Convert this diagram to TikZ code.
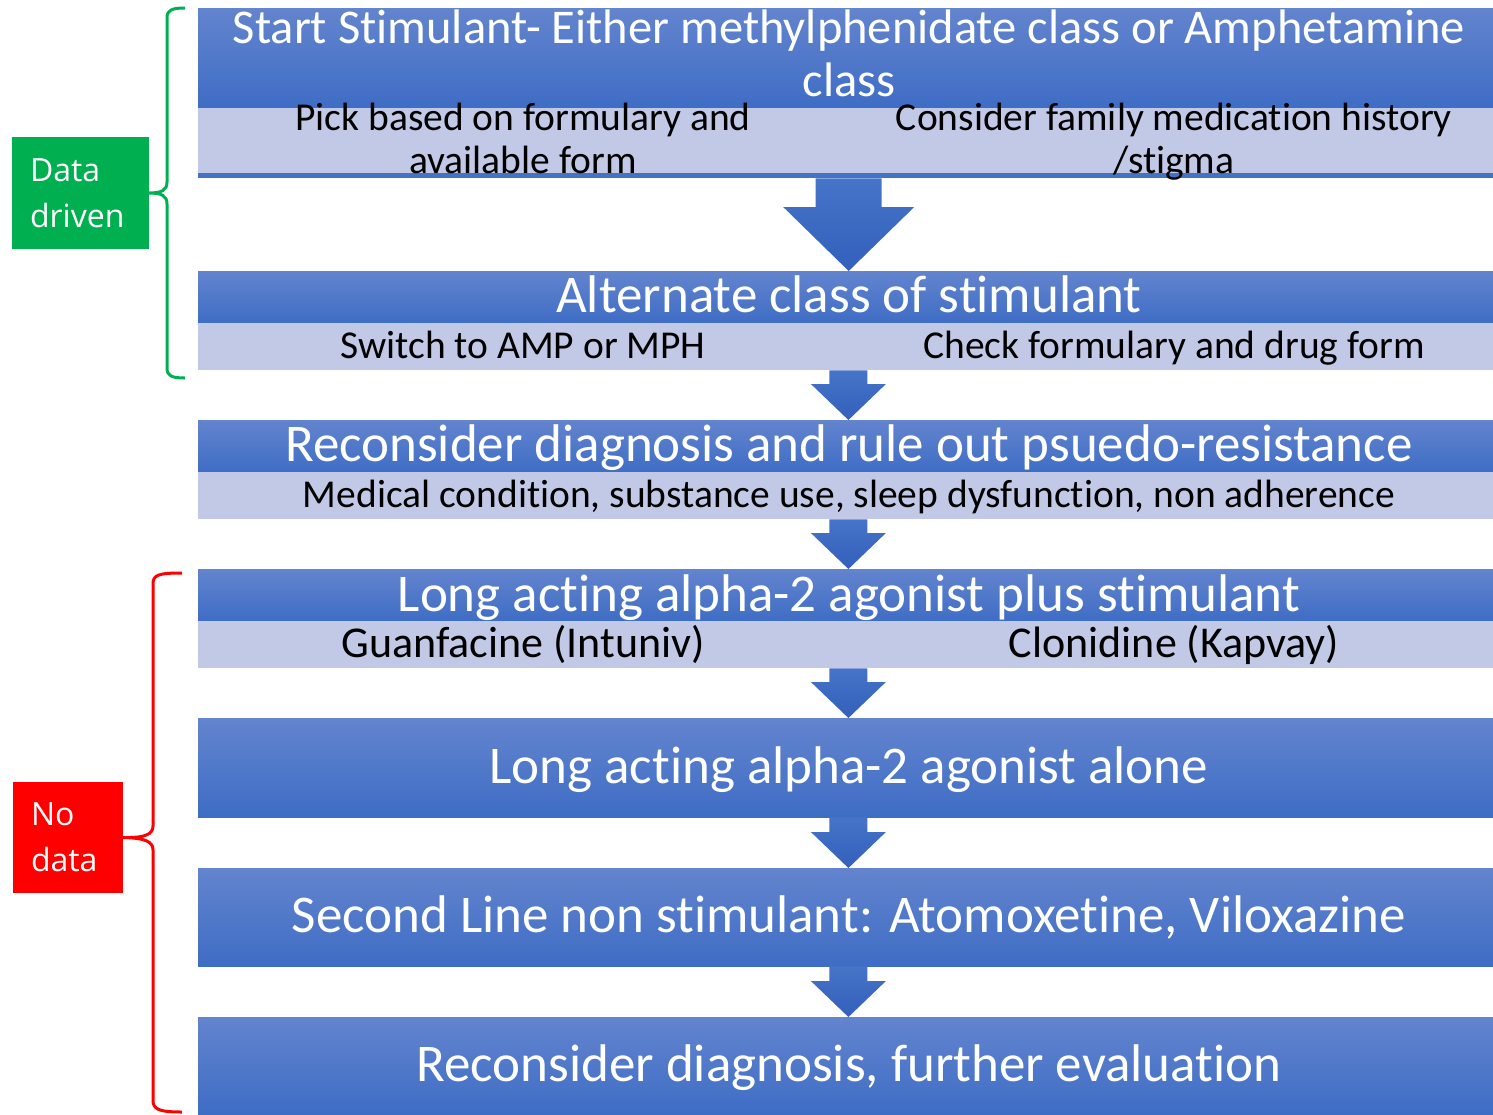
\documentclass[tikz,border=0pt]{standalone}
\usepackage{fontspec}
\setmainfont[Ligatures=CommonOff]{Carlito}
\newfontfamily\labelfont{Open Sans}
\usetikzlibrary{calc}
\definecolor{dkTop}{RGB}{99,132,206}
\definecolor{dkBot}{RGB}{62,109,197}
\definecolor{ltband}{RGB}{193,201,230}
\definecolor{arTop}{RGB}{70,116,200}
\definecolor{arBot}{RGB}{50,96,187}
\definecolor{stripblue}{RGB}{68,114,196}
\definecolor{ddgreen}{RGB}{0,176,80}
\definecolor{ndred}{RGB}{255,0,0}
\newcommand\blockarrow[5]{%
  \shade[top color=arTop,bottom color=arBot]
    ($(#1)+(-#3,0)$) -- ($(#2)+(-#3,-#5)$) -- ($(#2)+(-#4,-#5)$) -- (#2)
    -- ($(#2)+(#4,-#5)$) -- ($(#2)+(#3,-#5)$) -- ($(#1)+(#3,0)$) -- cycle;}
\begin{document}
\begin{tikzpicture}[x=1pt,y=-1pt,
  titlebox/.style={rectangle, inner sep=0pt, anchor=north west, top color=dkTop, bottom color=dkBot,
     minimum width=1295, minimum height=#1},
  subbox/.style={rectangle, inner sep=0pt, anchor=north west, fill=ltband, minimum height=#1},
  ttext/.style={inner sep=0pt, anchor=base, text=white, align=center, font=\fontsize{53}{64}\selectfont},
  stext/.style={inner sep=0pt, anchor=base, text=black, align=center, font=\fontsize{39.5}{43}\selectfont},
  tag/.style={rectangle, inner xsep=18pt, inner ysep=0pt, text=white, align=left,
     font=\labelfont\fontsize{32}{46}\selectfont},
  brace/.style={line width=3pt}]
\useasboundingbox (0,0) rectangle (1493,1114);
\fill[white] (0,0) rectangle (1493,1114);

% Box 1
\node[titlebox=100] (b1) at (198,8) {};
\node[rectangle, inner sep=0pt, anchor=north west, fill=stripblue, minimum width=1295, minimum height=5] (b1s) at (198,173) {};
\node[subbox=65, minimum width=650] (b1l) at (198,108) {};
\node[subbox=65, minimum width=645] (b1r) at (848,108) {};
\node[ttext, font=\fontsize{48.5}{53}\selectfont] (t1) at (849,96) {Start Stimulant- Either methylphenidate class or Amphetamine\\class};
\node[stext] (t1l) at (523,173.5) {Pick based on formulary and\\available form};
\node[stext] (t1r) at (1174,173.5) {Consider family medication history\\/stigma};

% Box 2
\node[titlebox=52] (b2) at (198,271) {};
\node[subbox=47, minimum width=650] (b2l) at (198,323) {};
\node[subbox=47, minimum width=645] (b2r) at (848,323) {};
\node[ttext] (t2) at (849,312.5) {Alternate class of stimulant};
\node[stext] (t2l) at (523,358.5) {Switch to AMP or MPH};
\node[stext] (t2r) at (1174,358.5) {Check formulary and drug form};

% Box 3
\node[titlebox=52] (b3) at (198,420) {};
\node[subbox=47, minimum width=1295] (b3s) at (198,472) {};
\node[ttext] (t3) at (849,461.5) {Reconsider diagnosis and rule out psuedo-resistance};
\node[stext] (t3s) at (849,507.5) {Medical condition, substance use, sleep dysfunction, non adherence};

% Box 4
\node[titlebox=52] (b4) at (198,569) {};
\node[subbox=47, minimum width=650] (b4l) at (198,621) {};
\node[subbox=47, minimum width=645] (b4r) at (848,621) {};
\node[ttext] (t4) at (849,611.5) {Long acting alpha-2 agonist plus stimulant};
\node[stext, font=\fontsize{44}{48}\selectfont] (t4l) at (523,657) {Guanfacine (Intuniv)};
\node[stext, font=\fontsize{44}{48}\selectfont] (t4r) at (1174,657) {Clonidine (Kapvay)};

% Boxes 5-7
\node[titlebox=99] (b5) at (198,718) {};
\node[ttext] (t5) at (849,783.5) {Long acting alpha-2 agonist alone};
\node[titlebox=98] (b6) at (198,868) {};
\node[ttext] (t6) at (849,932.5) {Second Line non stimulant: Atomoxetine, Viloxazine};
\node[titlebox=97] (b7) at (198,1017) {};
\node[ttext] (t7) at (849,1081.5) {Reconsider diagnosis, further evaluation};

% Arrows
\coordinate (a1s) at ($(b1s.south)+(3,0)$);
\blockarrow{a1s}{a1s |- b2.north}{33}{65.5}{64}
\blockarrow{b2l.south east}{b2l.south east |- b3.north}{19}{37.5}{36}
\coordinate (a3s) at (b2l.south east |- b3s.south);
\blockarrow{a3s}{a3s |- b4.north}{19}{37.5}{36}
\blockarrow{b4l.south east}{b4l.south east |- b5.north}{19}{37.5}{36}
\coordinate (a5s) at (b2l.south east |- b5.south);
\blockarrow{a5s}{a5s |- b6.north}{19}{37.5}{36}
\coordinate (a6s) at (b2l.south east |- b6.south);
\blockarrow{a6s}{a6s |- b7.north}{19}{37.5}{36}

% Labels
\node[tag, fill=ddgreen, minimum width=137, minimum height=112, text width=101] (dd) at (80.5,193) {Data\\driven};
\node[tag, fill=ndred, minimum width=110, minimum height=111, text width=74] (nd) at (68,837.5) {No\\data};

% Braces
\draw[brace, ddgreen] (185,8) .. controls (172,8) and (167,10) .. (167,18) -- (167,182)
   .. controls (167,190) and (162,193) .. (dd.east)
   .. controls (162,193) and (167,196) .. (167,204) -- (167,368)
   .. controls (167,376) and (172,378) .. (185,378);
\draw[brace, ndred] (182,573) .. controls (158,573) and (153,575) .. (153,584) -- (153,826)
   .. controls (153,834) and (146,838) .. (nd.east)
   .. controls (146,838) and (153,842) .. (153,850) -- (153,1100)
   .. controls (153,1109) and (158,1112) .. (182,1112);
\end{tikzpicture}
\end{document}
